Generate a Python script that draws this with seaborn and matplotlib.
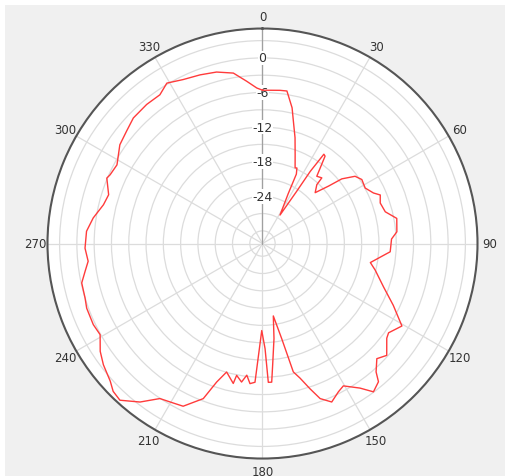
import numpy as np
import pandas as pd
import matplotlib
matplotlib.use("Agg")
import matplotlib.pyplot as plt
import seaborn as sns
from matplotlib.patches import Rectangle

# pattern (angle in degrees, level in dB)
angle_deg = [0, 6.5, 9.1, 10.9, 12.3, 13.7, 17.1, 20.2, 23.3, 24.5, 26, 27.3, 31.6, 33.2,
             33.5, 34.5, 35.6, 38.9, 42.1, 42.7, 46, 49, 50.8, 54, 57.2, 61.6, 65.5,
             67.6, 71, 75.5, 79.4, 85, 88, 93.7, 94.6, 100, 103.3, 109.7, 115.3, 120.6,
             125.3, 127.3, 132, 135.2, 138.5, 140, 143.2, 146, 150.4, 152.9, 156.4, 159.6,
             161.9, 164.4, 166.5, 168.6, 171.5, 173.1, 175.2, 176.2, 177.6, 178.6, 180.5,
             181.7, 183.1, 185.1, 186.8, 188.6, 191.1, 191.8, 195.6, 198.3, 200.9, 206,
             209.2, 213.5, 217.7, 222.3, 225.3, 227.9, 232.7, 236.4, 240.7, 244.4, 249.8,
             252.9, 257.7, 261.1, 264.2, 268.5, 274, 278.6, 283.7, 287.6, 292.8, 294.3,
             298.4, 304.7, 309.6, 314.2, 320.2, 325.4, 329.2, 334.2, 339.7, 345, 350.3,
             354.4, 357.9, 360]
level_db = [-5.6, -5.45, -5.4, -7.0, -8.1, -9.8, -13.0, -15.8, -17.9, -17.8, -18.8, -22.5,
            -26.4, -21.4, -17.2, -13.4, -13.55, -17.2, -16.85, -18.3, -19.5, -17.0, -14.45,
            -12.35, -11.7, -11.95, -11.05, -10.1, -10.6, -10.2, -8.5, -8.8, -9.8, -10.0,
            -10.55, -13.2, -12.1, -9.9, -7.1, -4.1, -5.4, -5.1, -3.2, -4.05, -2.46, -0.9,
            -0.07, -1.95, -3.8, -3.3, -2.2, -3.5, -5.7, -7.95, -9.3, -15.4, -19.5, -15.6,
            -11.1, -8.1, -8.1, -13.95, -17.1, -13.95, -8.1, -7.8, -9.2, -7.9, -8.9, -7.4,
            -9.06, -6.9, -3.4, -0.8, -0.5, 0.05, 2.55, 4.55, 4.25, 3.4, 2.5, 1.6, 0.1, 0.35,
            0.3, 0.0, -0.1, -1.05, -1.8, -1.4, -1.6, -2.5, -3.8, -4.2, -2.9, -3.2, -3.5,
            -2.1, -1.6, -0.95, -0.8, -0.85, 0.2, -0.6, -1.0, -1.4, -2.2, -3.9, -5.2, -5.6]

angle_ticks = list(range(0, 360, 30))
angle_labels = [str(a) for a in angle_ticks]
ring_values = list(range(-30, 4, 3))
r_label_values = [0, -6, -12, -18, -24]

df = pd.DataFrame({"theta": np.deg2rad(angle_deg), "db": level_db})

sns.set_style("white")
plt.rcParams["font.family"] = ["DejaVu Sans"]

fig = plt.figure(figsize=(5.15, 4.77), dpi=100, facecolor="white")
fig.patches.append(Rectangle((5 / 515, 0), 500 / 515, 471 / 477, transform=fig.transFigure,
                             facecolor="#f0f0f0", edgecolor="none", zorder=-5))
ax = fig.add_axes([0.0922, 0.0366, 0.835, 0.9015], projection="polar")
ax.set_facecolor("white")
ax.set_theta_zero_location("N")
ax.set_theta_direction(-1)
ax.set_rlim(-32.2, 5.1)

sns.lineplot(data=df, x="theta", y="db", ax=ax, sort=False, estimator=None,
             color="#ff3b3b", linewidth=1.0, zorder=5)

ax.set_thetagrids(angle_ticks, angle_labels)
ax.set_rticks(ring_values)
ax.set_yticklabels([])
ax.set_xlabel("")
ax.set_ylabel("")
ax.tick_params(axis="x", pad=-1.5, labelsize=8.5, colors="#333333")
ax.grid(True, color="#dcdcdc", linewidth=0.9)
ax.spines["polar"].set_color("#555555")
ax.spines["polar"].set_linewidth(1.5)

# darker 0-degree spoke and radial labels along it
ax.plot([0, 0], [-32.2, 5.1], color="#a0a0a0", linewidth=0.9, zorder=1)
for v in r_label_values:
    ax.text(0, v, str(v), ha="center", va="center", fontsize=9, color="#333333", zorder=3,
            bbox=dict(facecolor="white", edgecolor="none", pad=0.5))

fig.savefig("out.png", dpi=100, facecolor=fig.get_facecolor())
